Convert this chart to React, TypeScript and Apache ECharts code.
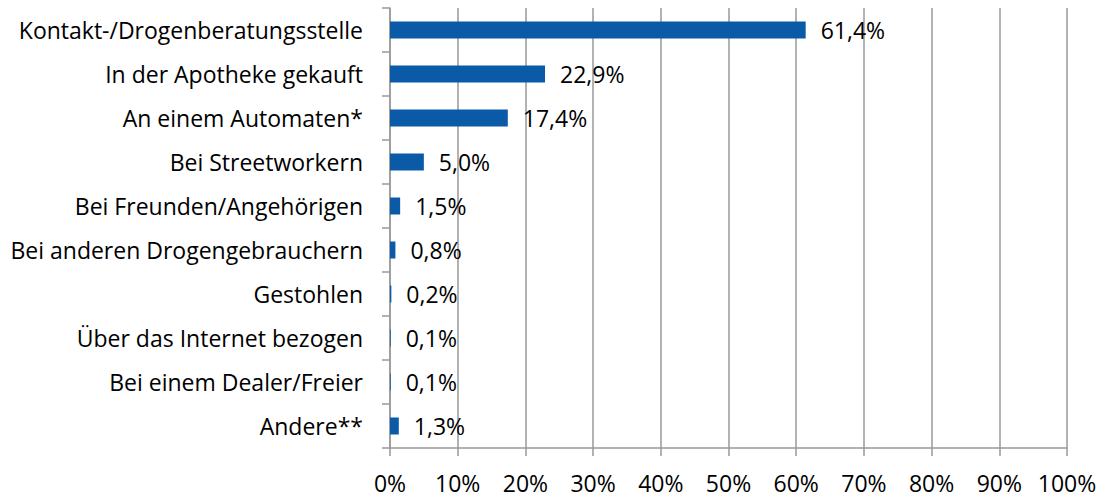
import React, { useEffect, useRef } from "react";
import * as echarts from "echarts";

const categories = [
  "Kontakt-/Drogenberatungsstelle",
  "In der Apotheke gekauft",
  "An einem Automaten*",
  "Bei Streetworkern",
  "Bei Freunden/Angehörigen",
  "Bei anderen Drogengebrauchern",
  "Gestohlen",
  "Über das Internet bezogen",
  "Bei einem Dealer/Freier",
  "Andere**",
];
const values = [61.4, 22.9, 17.4, 5.0, 1.5, 0.8, 0.2, 0.1, 0.1, 1.3];

const FONT = "'Open Sans', 'Noto Sans', sans-serif";
const GRID_COLOR = "#999999";

export default function App() {
  const ref = useRef<HTMLDivElement>(null);
  useEffect(() => {
    if (!ref.current) return;
    const chart = echarts.init(ref.current, undefined, { renderer: "svg" });
    chart.setOption({
      animation: false,
      backgroundColor: "#ffffff",
      grid: { left: 390, top: 8, width: 677, height: 440, containLabel: false },
      xAxis: {
        type: "value",
        min: 0,
        max: 100,
        interval: 10,
        axisLine: { show: true, lineStyle: { color: GRID_COLOR, width: 1.5 } },
        axisTick: { show: true, length: 8, lineStyle: { color: GRID_COLOR, width: 1.5 } },
        splitLine: { show: true, lineStyle: { color: GRID_COLOR, width: 1.5 } },
        axisLabel: {
          formatter: (v: number) => `${v}%`,
          color: "#000",
          fontFamily: FONT,
          fontSize: 23,
          margin: 23,
        },
      },
      yAxis: {
        type: "category",
        inverse: true,
        data: categories,
        axisLine: { show: true, lineStyle: { color: GRID_COLOR, width: 1.5 } },
        axisTick: { show: true, length: 8, lineStyle: { color: GRID_COLOR, width: 1.5 } },
        axisLabel: {
          color: "#000",
          fontFamily: FONT,
          fontSize: 23,
          margin: 27,
        },
      },
      series: [
        {
          type: "bar",
          data: values,
          barWidth: 17,
          itemStyle: { color: "#0A5AA8" },
          label: {
            show: true,
            position: "right",
            distance: 15,
            color: "#000",
            fontFamily: FONT,
            fontSize: 23,
            formatter: (p: any) => `${p.value.toFixed(1).replace(".", ",")}%`,
          },
        },
      ],
    });
    return () => chart.dispose();
  }, []);
  return <div ref={ref} style={{ width: 1103, height: 497, position: "absolute", left: 0, top: 0 }} />;
}
